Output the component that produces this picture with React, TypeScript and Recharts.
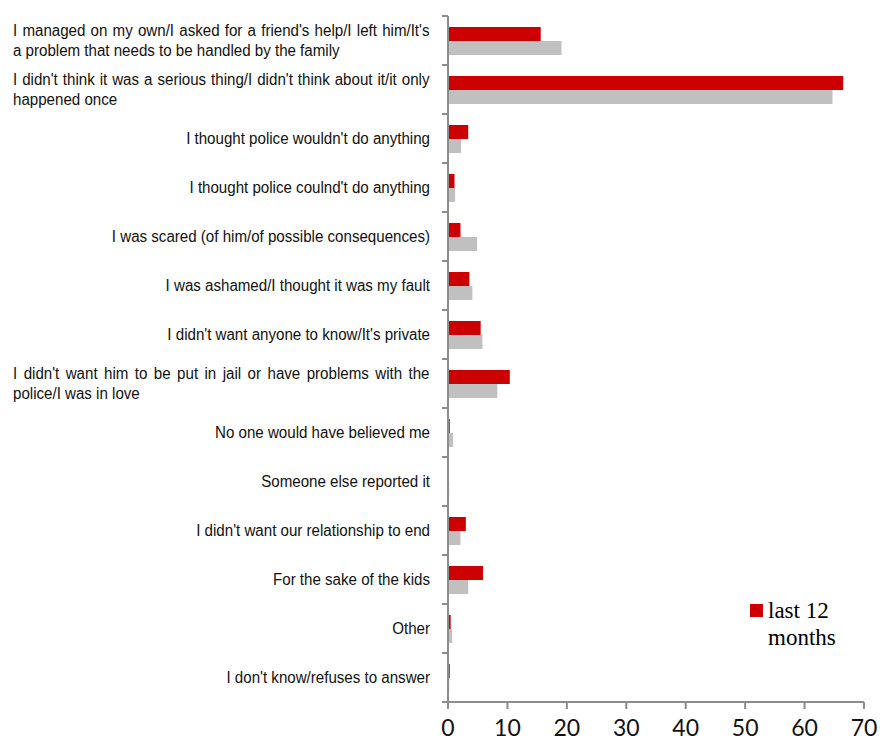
import React from 'react';
import { BarChart, Bar, XAxis, YAxis, Legend } from 'recharts';

const categories: string[] = [
  "I managed on my own/I asked for a friend's help/I left him/It's\na problem that needs to be handled by the family",
  "I didn't think it was a serious thing/I didn't think about it/it only\nhappened once",
  "I thought police wouldn't do anything",
  "I thought police coulnd't do anything",
  "I was scared (of him/of possible consequences)",
  "I was ashamed/I thought it was my fault",
  "I didn't want anyone to know/It's private",
  "I didn't want him to be put in jail or have problems with the\npolice/I was in love",
  "No one would have believed me",
  "Someone else reported it",
  "I didn't want our relationship to end",
  "For the sake of the kids",
  "Other",
  "I don't know/refuses to answer",
];

const last12Months: number[] = [15.6, 66.5, 3.4, 1.1, 2.1, 3.6, 5.5, 10.4, 0.3, 0, 3.0, 5.9, 0.45, 0.3];
const lifetime: number[] = [19.1, 64.7, 2.2, 1.2, 4.9, 4.1, 5.8, 8.3, 0.85, 0.2, 2.1, 3.4, 0.7, 0.2];

const xTicks: number[] = [0, 10, 20, 30, 40, 50, 60, 70];

const data = categories.map((c, i) => ({ category: c, last12: last12Months[i], lifetime: lifetime[i] }));

const AXIS_COLOR = '#8c8c8c';
const LABEL_FONT_SIZE = 16;
const LABEL_FONT = 'Liberation Sans, Arial, sans-serif';
const SCALE_X = 0.945;
const JUSTIFY_WIDTH = 417;

let ctx: CanvasRenderingContext2D | null = null;
function measure(text: string): number {
  if (typeof document === 'undefined') return text.length * 7;
  if (!ctx) {
    const c = document.createElement('canvas');
    ctx = c.getContext('2d');
  }
  if (!ctx) return text.length * 7;
  ctx.font = `${LABEL_FONT_SIZE}px "Liberation Sans"`;
  return ctx.measureText(text).width;
}

function CategoryTick(props: any) {
  const { x, y, payload, index, visibleTicksCount } = props;
  const half = payload && typeof payload.offset === 'number' && payload.offset > 0 ? payload.offset : 24.5;
  const lines: string[] = String(payload.value).split('\n');
  const isLast = index === (visibleTicksCount ?? categories.length) - 1;
  const font = { fontFamily: LABEL_FONT, fontSize: LABEL_FONT_SIZE, fill: '#111' };
  const rightX = x - 18;
  const leftX = x - 435;
  return (
    <g>
      <line x1={x - 6} x2={x} y1={y - half} y2={y - half} stroke={AXIS_COLOR} strokeWidth={2} />
      {isLast && <line x1={x - 6} x2={x} y1={y + half} y2={y + half} stroke={AXIS_COLOR} strokeWidth={2} />}
      {lines.length === 1 ? (
        <g transform={`translate(${rightX},0) scale(${SCALE_X},1) translate(${-rightX},0)`}>
          <text x={rightX} y={y} dy="0.35em" textAnchor="end" {...font}>{lines[0]}</text>
        </g>
      ) : (
        <g transform={`translate(${leftX},0) scale(${SCALE_X},1) translate(${-leftX},0)`}>
          {lines.map((ln, i) => {
            let ws = 0;
            if (i < lines.length - 1) {
              const spaces = (ln.match(/ /g) || []).length;
              const w = measure(ln);
              ws = spaces > 0 ? (JUSTIFY_WIDTH / SCALE_X - w) / spaces : 0;
            }
            return (
              <text
                key={i}
                x={leftX}
                y={y + (i - (lines.length - 1) / 2) * 20}
                dy="0.35em"
                textAnchor="start"
                {...font}
                style={{ wordSpacing: ws }}
              >
                {ln}
              </text>
            );
          })}
        </g>
      )}
    </g>
  );
}

function LegendContent() {
  return (
    <div style={{ display: 'flex', alignItems: 'flex-start', fontFamily: 'Liberation Serif, Times New Roman, serif', fontSize: 23, color: '#000', lineHeight: '27px' }}>
      <div style={{ width: 13, height: 13, background: '#cc0000', marginTop: 7, marginRight: 5 }} />
      <div>last 12<br />months</div>
    </div>
  );
}

export default function App() {
  return (
    <div style={{ position: 'absolute', left: 0, top: 0, width: 880, height: 742, background: '#fff' }}>
      <BarChart
        width={880}
        height={742}
        data={data}
        layout="vertical"
        margin={{ top: 16, right: 16, bottom: 10, left: 0 }}
        barSize={14}
        barGap={0}
      >
        <XAxis
          type="number"
          domain={[0, 70]}
          ticks={xTicks}
          interval={0}
          height={30}
          axisLine={{ stroke: AXIS_COLOR, strokeWidth: 2 }}
          tickLine={{ stroke: AXIS_COLOR, strokeWidth: 2 }}
          tickSize={7}
          tickMargin={11}
          tick={{ fill: '#111', fontSize: 23, fontFamily: 'Lato, Open Sans, sans-serif' }}
        />
        <YAxis
          type="category"
          dataKey="category"
          width={448}
          interval={0}
          axisLine={{ stroke: AXIS_COLOR, strokeWidth: 2 }}
          tickLine={false}
          tickSize={0}
          tickMargin={0}
          tick={<CategoryTick />}
        />
        <Legend
          verticalAlign="middle"
          align="center"
          layout="vertical"
          content={<LegendContent />}
          wrapperStyle={{ position: 'absolute', left: 750, top: 597, width: 110 }}
        />
        <Bar dataKey="last12" name="last 12 months" fill="#cc0000" isAnimationActive={false} />
        <Bar dataKey="lifetime" name="lifetime" fill="#c0c0c0" legendType="none" isAnimationActive={false} />
      </BarChart>
    </div>
  );
}
